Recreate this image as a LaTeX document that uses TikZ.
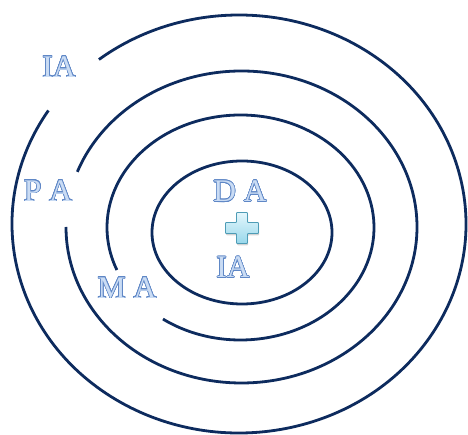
\documentclass[tikz,border=0pt]{standalone}
\usepackage{fontspec}
\setmainfont{Liberation Serif}
\usepackage{contour}
\usetikzlibrary{shadows}
\definecolor{ring}{HTML}{0D2B5E}
\definecolor{lblfill}{HTML}{CADCF4}
\definecolor{lblline}{HTML}{5F87C6}
\definecolor{plustop}{HTML}{E4F7FC}
\definecolor{plusbot}{HTML}{98D8EB}
\definecolor{plusline}{HTML}{4E9CB6}
\contourlength{0.6pt}
\contournumber{24}
\tikzset{
  ringline/.style={draw=ring, line width=2.8pt},
  lbl/.style={font=\fontsize{31.5}{31.5}\selectfont, inner sep=0pt, anchor=center},
}
\newcommand{\outl}[1]{\contour{lblline}{\textcolor{lblfill}{#1}}}
\begin{document}
\begin{tikzpicture}[x=1pt,y=1pt]
\useasboundingbox (0,0) rectangle (468,435);
% inner ellipse (full)
\draw[ringline] (242,202.5) ellipse[x radius=90, y radius=71.5];
% second ring, gap lower-left
\draw[ringline] (240.5,207.5) ++(234.5:133.5 and 112.5)
  arc[start angle=234.5, end angle=562.2, x radius=133.5, y radius=112.5];
% third ring, gap left
\draw[ringline] (241.5,208) ++(180:175.5 and 156)
  arc[start angle=180, end angle=519.3, x radius=175.5, y radius=156];
% outer ring, gap upper-left
\draw[ringline] (239,211) ++(147.1:227 and 209)
  arc[start angle=147.1, end angle=488.1, x radius=227, y radius=209];
% labels
\node[lbl] (ia1) at (59,368) {\outl{IA}};
\node[lbl] (pa) at (48,244) {\outl{P A}};
\node[lbl] (ma) at (127,147) {\outl{M A}};
\node[lbl] (da) at (240,243.5) {\outl{D A}};
\node[lbl] (ia2) at (233,167.5) {\outl{IA}};
% plus sign
\coordinate (plus) at (242,207);
\path[drop shadow={opacity=0.35, shadow xshift=0.6pt, shadow yshift=-1.8pt},
      top color=plustop, bottom color=plusbot, draw=plusline, line width=0.9pt, rounded corners=0.8pt]
  (plus) ++(-5.5,15.5) -- ++(11,0) -- ++(0,-10) -- ++(11,0) -- ++(0,-11) -- ++(-11,0)
  -- ++(0,-10) -- ++(-11,0) -- ++(0,10) -- ++(-11,0) -- ++(0,11) -- ++(11,0) -- cycle;
\end{tikzpicture}
\end{document}
